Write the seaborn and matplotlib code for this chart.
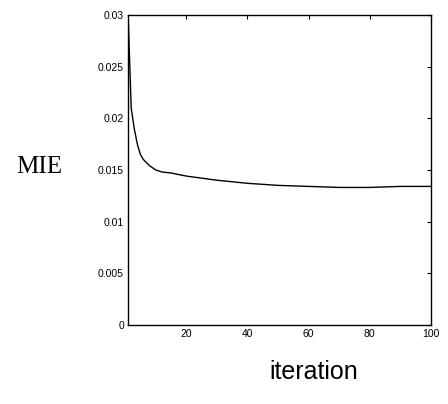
import matplotlib
matplotlib.use("Agg")
import matplotlib.pyplot as plt
import pandas as pd
import seaborn as sns

# values
iteration = [1, 2, 3, 4, 5, 6, 8, 10, 12, 15, 20, 25, 30, 40, 50, 60, 70, 80, 90, 100]
mie = [0.0300, 0.0210, 0.0190, 0.0175, 0.0165, 0.0160, 0.0154, 0.0150, 0.0148, 0.0147,
       0.0144, 0.0142, 0.0140, 0.0137, 0.0135, 0.0134, 0.0133, 0.0133, 0.0134, 0.0134]
x_ticks = [20, 40, 60, 80, 100]
y_ticks = [0, 0.005, 0.01, 0.015, 0.02, 0.025, 0.03]
y_tick_labels = ["0", "0.005", "0.01", "0.015", "0.02", "0.025", "0.03"]

sns.set_theme(style="white")
plt.rcParams["font.family"] = ["Liberation Sans", "DejaVu Sans"]

df = pd.DataFrame({"iteration": iteration, "MIE": mie})

fig = plt.figure(figsize=(4.48, 4.04), dpi=100)
ax = fig.add_axes([0.286, 0.196, 0.676, 0.767])
sns.lineplot(data=df, x="iteration", y="MIE", ax=ax, color="black", linewidth=1.0)

ax.set_xlim(1, 100)
ax.set_ylim(0, 0.03)
ax.set_xticks(x_ticks)
ax.set_yticks(y_ticks)
ax.set_yticklabels(y_tick_labels)
ax.tick_params(direction="in", length=3, width=0.8, labelsize=7.5, colors="black",
               top=True, right=True, pad=3)
for s in ax.spines.values():
    s.set_color("black")
    s.set_linewidth(1.0)
ax.set_xlabel("")
ax.set_ylabel("")

fig.text(0.088, 0.587, "MIE", family="Liberation Serif", fontsize=18, color="black",
         ha="center", va="center")
fig.text(0.70, 0.08, "iteration", fontsize=18, color="black", ha="center", va="center")

fig.savefig("out.png", dpi=100, facecolor="white")
